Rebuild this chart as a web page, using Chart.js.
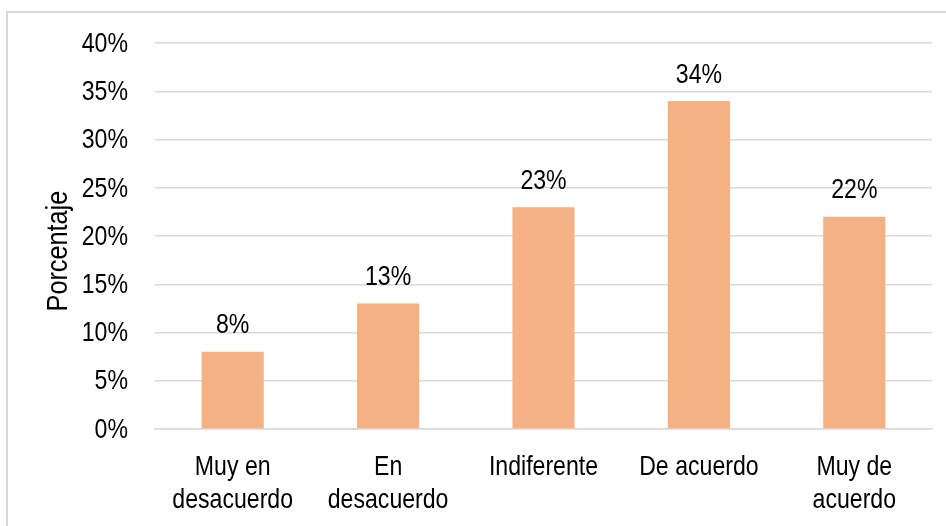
<!DOCTYPE html>
<html>
<head>
<meta charset="utf-8">
<script src="https://cdn.jsdelivr.net/npm/chart.js@4/dist/chart.umd.min.js"></script>
<style>
  html, body { margin: 0; padding: 0; background: #ffffff; overflow: hidden; }
  #frame { position: absolute; left: 6px; top: 11px; width: 1200px; height: 1200px;
           border-left: 2px solid #d9d9d9; border-top: 2px solid #d9d9d9; box-sizing: border-box; }
  #wrap { position: absolute; left: 0; top: 0; width: 946px; height: 526px; }
</style>
</head>
<body>
<div id="frame"></div>
<div id="wrap"><canvas id="c" width="946" height="526"></canvas></div>
<script>
const categories = [["Muy en", "desacuerdo"], ["En", "desacuerdo"], "Indiferente", "De acuerdo", ["Muy de", "acuerdo"]];
const values = [8, 13, 23, 34, 22];
const yTicks = [0, 5, 10, 15, 20, 25, 30, 35, 40];
const yTitle = "Porcentaje";

const FONT = '"Liberation Sans", Arial, sans-serif';
const NARROW = 0.825;   // emulate a condensed face (Arial Narrow look)

function narrowText(ctx, text, x, y, align, baseline, sx, rot) {
  ctx.save();
  ctx.translate(x, y);
  if (rot) ctx.rotate(rot);
  ctx.scale(sx, 1);
  ctx.textAlign = align;
  ctx.textBaseline = baseline;
  ctx.fillText(text, 0, 0);
  ctx.restore();
}

const textPlugin = {
  id: 'narrowTexts',
  afterDraw(chart) {
    const ctx = chart.ctx;
    const xs = chart.scales.x, ys = chart.scales.y;
    ctx.save();
    ctx.fillStyle = '#000000';
    ctx.font = '28px ' + FONT;
    // y tick labels
    ys.ticks.forEach(t => {
      narrowText(ctx, t.value + '%', chart.chartArea.left - 27, ys.getPixelForValue(t.value) + 1, 'right', 'middle', NARROW);
    });
    // x tick labels
    categories.forEach((lab, i) => {
      const lines = Array.isArray(lab) ? lab : [lab];
      const cx = xs.getPixelForValue(i);
      lines.forEach((ln, j) => {
        narrowText(ctx, ln, cx, chart.chartArea.bottom + 46 + j * 33, 'center', 'alphabetic', NARROW);
      });
    });
    // data labels
    const meta = chart.getDatasetMeta(0);
    meta.data.forEach((bar, i) => {
      narrowText(ctx, values[i] + '%', bar.x, bar.y - 18.5, 'center', 'alphabetic', NARROW);
    });
    // y title
    ctx.font = '29px ' + FONT;
    narrowText(ctx, yTitle, 66.5, (chart.chartArea.top + chart.chartArea.bottom) / 2 + 15, 'center', 'alphabetic', 0.87, -Math.PI / 2);
    ctx.restore();
  }
};

new Chart(document.getElementById('c'), {
  type: 'bar',
  data: {
    labels: categories,
    datasets: [{
      data: values,
      backgroundColor: '#F4B183',
      borderWidth: 0,
      barPercentage: 0.4,
      categoryPercentage: 1.0
    }]
  },
  options: {
    responsive: false,
    animation: false,
    devicePixelRatio: 1,
    layout: { padding: { left: 28, right: 14, top: 42, bottom: 0 } },
    plugins: { legend: { display: false }, tooltip: { enabled: false } },
    scales: {
      x: {
        grid: { display: false, drawTicks: false },
        border: { display: true, color: '#d9d9d9', width: 1.5 },
        ticks: { color: 'rgba(0,0,0,0)', font: { family: FONT, size: 27 }, padding: 20, maxRotation: 0, autoSkip: false },
        afterFit(scale) { scale.height = 97; }
      },
      y: {
        min: 0, max: 40,
        afterBuildTicks(scale) { scale.ticks = yTicks.map(v => ({ value: v })); },
        grid: { color: '#d9d9d9', lineWidth: 1.5, drawTicks: false },
        border: { display: false },
        ticks: { color: 'rgba(0,0,0,0)', font: { family: FONT, size: 27 }, padding: 27,
                 callback: v => v + '%' },
        afterFit(scale) { scale.width = 155 - 28; }
      }
    }
  },
  plugins: [textPlugin]
});
</script>
</body>
</html>
